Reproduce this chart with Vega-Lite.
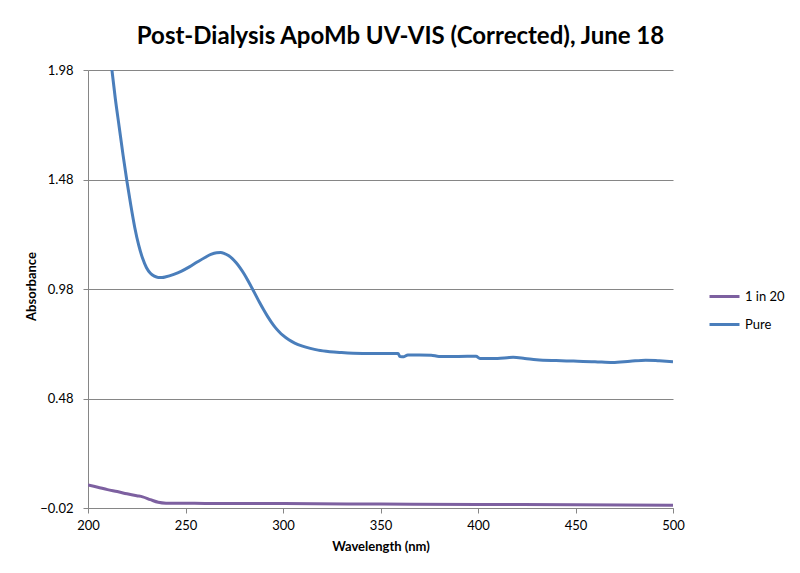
{
  "$schema": "https://vega.github.io/schema/vega-lite/v6.json",
  "width": 585,
  "height": 438,
  "autosize": {"type": "none"},
  "padding": {"left": 88, "top": 70, "right": 127, "bottom": 65},
  "background": "white",
  "title": {
    "text": "Post-Dialysis ApoMb UV-VIS (Corrected), June 18",
    "font": "Lato",
    "fontSize": 24,
    "fontWeight": "bold",
    "color": "#000000",
    "anchor": "middle",
    "dx": 20,
    "offset": 15
  },
  "config": {
    "view": {"stroke": null},
    "font": "Lato"
  },
  "data": {
    "values": [
      {"series": "Pure", "wl": 210, "abs": 2.16},
      {"series": "Pure", "wl": 212, "abs": 2.0},
      {"series": "Pure", "wl": 214, "abs": 1.85},
      {"series": "Pure", "wl": 216, "abs": 1.72},
      {"series": "Pure", "wl": 218, "abs": 1.59},
      {"series": "Pure", "wl": 220, "abs": 1.47},
      {"series": "Pure", "wl": 222, "abs": 1.36},
      {"series": "Pure", "wl": 224, "abs": 1.26},
      {"series": "Pure", "wl": 226, "abs": 1.18},
      {"series": "Pure", "wl": 228, "abs": 1.12},
      {"series": "Pure", "wl": 230, "abs": 1.077},
      {"series": "Pure", "wl": 232, "abs": 1.052},
      {"series": "Pure", "wl": 234, "abs": 1.039},
      {"series": "Pure", "wl": 236, "abs": 1.033},
      {"series": "Pure", "wl": 238, "abs": 1.033},
      {"series": "Pure", "wl": 240, "abs": 1.036},
      {"series": "Pure", "wl": 244, "abs": 1.047},
      {"series": "Pure", "wl": 248, "abs": 1.062},
      {"series": "Pure", "wl": 252, "abs": 1.081},
      {"series": "Pure", "wl": 256, "abs": 1.103},
      {"series": "Pure", "wl": 260, "abs": 1.124},
      {"series": "Pure", "wl": 263, "abs": 1.138},
      {"series": "Pure", "wl": 266, "abs": 1.146},
      {"series": "Pure", "wl": 268, "abs": 1.147},
      {"series": "Pure", "wl": 270, "abs": 1.142},
      {"series": "Pure", "wl": 272, "abs": 1.133},
      {"series": "Pure", "wl": 274, "abs": 1.119},
      {"series": "Pure", "wl": 276, "abs": 1.100},
      {"series": "Pure", "wl": 278, "abs": 1.077},
      {"series": "Pure", "wl": 280, "abs": 1.050},
      {"series": "Pure", "wl": 282, "abs": 1.019},
      {"series": "Pure", "wl": 284, "abs": 0.986},
      {"series": "Pure", "wl": 286, "abs": 0.952},
      {"series": "Pure", "wl": 288, "abs": 0.918},
      {"series": "Pure", "wl": 290, "abs": 0.886},
      {"series": "Pure", "wl": 292, "abs": 0.856},
      {"series": "Pure", "wl": 294, "abs": 0.829},
      {"series": "Pure", "wl": 296, "abs": 0.805},
      {"series": "Pure", "wl": 298, "abs": 0.785},
      {"series": "Pure", "wl": 300, "abs": 0.768},
      {"series": "Pure", "wl": 303, "abs": 0.748},
      {"series": "Pure", "wl": 306, "abs": 0.733},
      {"series": "Pure", "wl": 310, "abs": 0.719},
      {"series": "Pure", "wl": 314, "abs": 0.709},
      {"series": "Pure", "wl": 318, "abs": 0.701},
      {"series": "Pure", "wl": 324, "abs": 0.694},
      {"series": "Pure", "wl": 330, "abs": 0.69},
      {"series": "Pure", "wl": 336, "abs": 0.687},
      {"series": "Pure", "wl": 345, "abs": 0.685},
      {"series": "Pure", "wl": 352, "abs": 0.685},
      {"series": "Pure", "wl": 359, "abs": 0.685},
      {"series": "Pure", "wl": 360, "abs": 0.672},
      {"series": "Pure", "wl": 362, "abs": 0.671},
      {"series": "Pure", "wl": 364, "abs": 0.679},
      {"series": "Pure", "wl": 370, "abs": 0.679},
      {"series": "Pure", "wl": 376, "abs": 0.678},
      {"series": "Pure", "wl": 380, "abs": 0.672},
      {"series": "Pure", "wl": 390, "abs": 0.672},
      {"series": "Pure", "wl": 399, "abs": 0.673},
      {"series": "Pure", "wl": 401, "abs": 0.663},
      {"series": "Pure", "wl": 410, "abs": 0.663},
      {"series": "Pure", "wl": 415, "abs": 0.666},
      {"series": "Pure", "wl": 418, "abs": 0.668},
      {"series": "Pure", "wl": 424, "abs": 0.663},
      {"series": "Pure", "wl": 430, "abs": 0.657},
      {"series": "Pure", "wl": 440, "abs": 0.653},
      {"series": "Pure", "wl": 449, "abs": 0.651},
      {"series": "Pure", "wl": 460, "abs": 0.648},
      {"series": "Pure", "wl": 469, "abs": 0.644},
      {"series": "Pure", "wl": 478, "abs": 0.65},
      {"series": "Pure", "wl": 486, "abs": 0.655},
      {"series": "Pure", "wl": 493, "abs": 0.652},
      {"series": "Pure", "wl": 500, "abs": 0.648},
      {"series": "1 in 20", "wl": 200, "abs": 0.085},
      {"series": "1 in 20", "wl": 205, "abs": 0.075},
      {"series": "1 in 20", "wl": 210, "abs": 0.064},
      {"series": "1 in 20", "wl": 215, "abs": 0.055},
      {"series": "1 in 20", "wl": 220, "abs": 0.045},
      {"series": "1 in 20", "wl": 225, "abs": 0.036},
      {"series": "1 in 20", "wl": 228, "abs": 0.031},
      {"series": "1 in 20", "wl": 232, "abs": 0.018},
      {"series": "1 in 20", "wl": 236, "abs": 0.006},
      {"series": "1 in 20", "wl": 240, "abs": 0.002},
      {"series": "1 in 20", "wl": 260, "abs": 0.001},
      {"series": "1 in 20", "wl": 300, "abs": 0.0},
      {"series": "1 in 20", "wl": 350, "abs": -0.002},
      {"series": "1 in 20", "wl": 400, "abs": -0.004},
      {"series": "1 in 20", "wl": 450, "abs": -0.005},
      {"series": "1 in 20", "wl": 500, "abs": -0.008}
    ]
  },
  "mark": {"type": "line", "strokeWidth": 3, "clip": true, "interpolate": "monotone"},
  "encoding": {
    "x": {
      "field": "wl",
      "type": "quantitative",
      "scale": {"domain": [200, 500], "nice": false, "zero": false},
      "axis": {
        "title": "Wavelength (nm)",
        "values": [200, 250, 300, 350, 400, 450, 500],
        "grid": false,
        "labelFlush": false,
        "domainColor": "#868686",
        "tickColor": "#868686",
        "tickSize": 5,
        "labelFont": "Lato",
        "labelFontSize": 13,
        "labelColor": "#000000",
        "labelPadding": 6,
        "titleFont": "Lato",
        "titleFontSize": 13,
        "titleFontWeight": "bold",
        "titleColor": "#000000",
        "titlePadding": 8
      }
    },
    "y": {
      "field": "abs",
      "type": "quantitative",
      "scale": {"domain": [-0.02, 1.98], "nice": false, "zero": false},
      "axis": {
        "title": "Absorbance",
        "values": [-0.02, 0.48, 0.98, 1.48, 1.98],
        "format": ".2f",
        "grid": true,
        "labelFlush": false,
        "gridColor": "#868686",
        "gridWidth": 1,
        "domainColor": "#868686",
        "tickColor": "#868686",
        "tickSize": 5,
        "labelFont": "Lato",
        "labelFontSize": 13,
        "labelColor": "#000000",
        "labelPadding": 10,
        "titleFont": "Lato",
        "titleFontSize": 13,
        "titleFontWeight": "bold",
        "titleColor": "#000000",
        "titleX": -50,
        "titleY": 216,
        "titleAngle": -90,
        "titleBaseline": "bottom",
        "titleAlign": "center"
      }
    },
    "color": {
      "field": "series",
      "type": "nominal",
      "scale": {"domain": ["1 in 20", "Pure"], "range": ["#7d60a0", "#4a7ebb"]},
      "legend": {
        "title": null,
        "orient": "none",
        "legendX": 620,
        "legendY": 210,
        "symbolType": "stroke",
        "symbolSize": 900,
        "symbolStrokeWidth": 3,
        "labelFont": "Lato",
        "labelFontSize": 13,
        "labelColor": "#000000",
        "labelOffset": 4,
        "rowPadding": 4
      }
    }
  }
}
